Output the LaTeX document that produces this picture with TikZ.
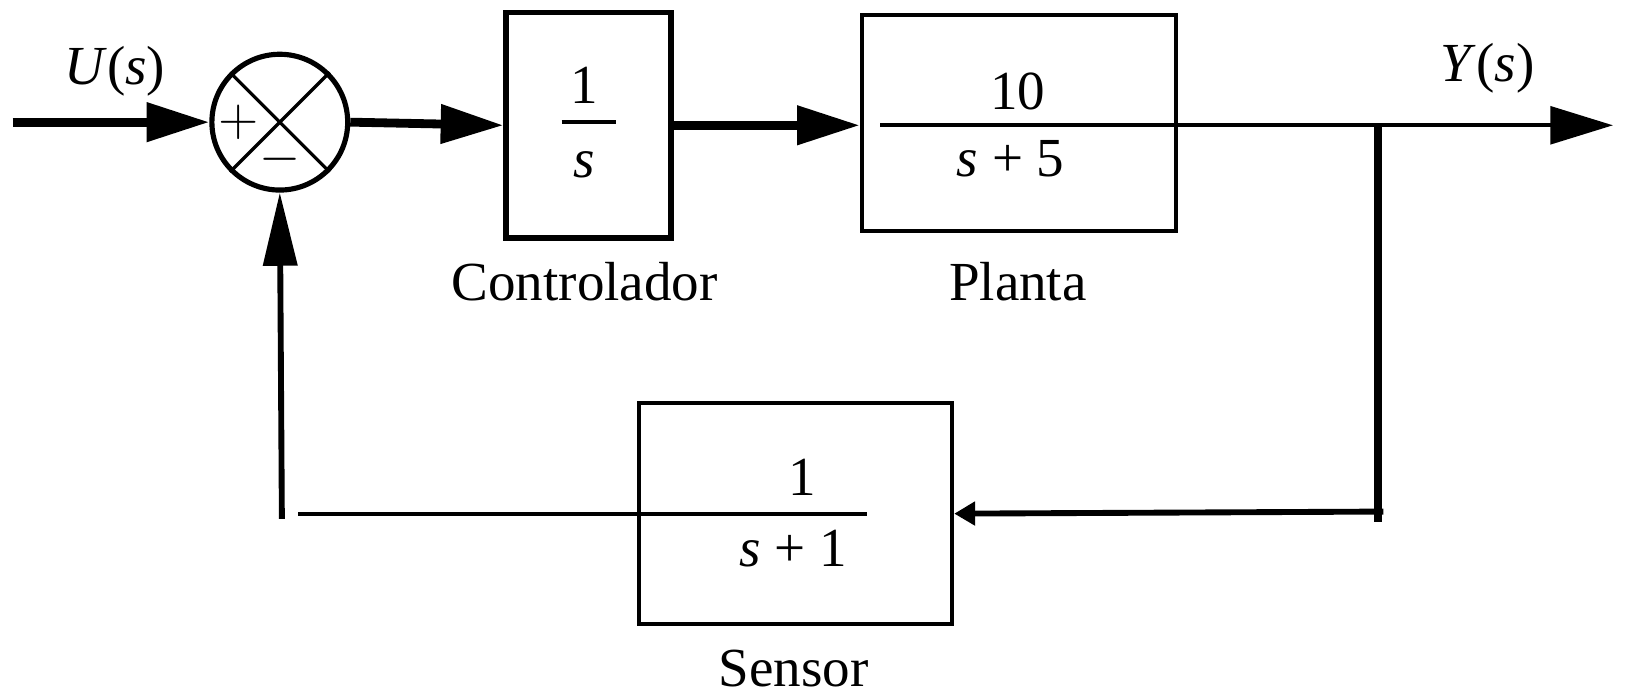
\documentclass[tikz,border=0pt]{standalone}
\usepackage{fontspec}
\setmainfont{Liberation Serif}
\usetikzlibrary{arrows.meta}

\begin{document}
\begin{tikzpicture}[
			x=0.01cm, y=-0.01cm,
			font=\fontsize{15}{18}\selectfont,
			bloque/.style={draw=black, rectangle, inner sep=0pt, line width=1.1pt},
			sumador/.style={draw=black, circle, inner sep=0pt,
				minimum size=1.3cm, line width=1.4pt},
			senal/.style={line width=1.1pt, black},
			senalG/.style={line width=2.4pt, black},
			senalM/.style={line width=1.6pt, black},
			flecha/.style={-{Triangle[length=6mm, width=3.6mm]}},
			flechaV/.style={-{Triangle[length=7mm, width=3.2mm]}},
			flechita/.style={-{Triangle[length=2mm, width=2.2mm]}},
			etiqueta/.style={inner sep=0pt}]
			
			\useasboundingbox (0,0) rectangle (1568,666);
			
			%% --- bloques ---
			\node[sumador] (suma) at (268,117) {};
			\node[bloque, line width=1.6pt, minimum width=1.58cm, minimum height=2.16cm] (controlador) at (564,120) {};
			\node[bloque, minimum width=3.01cm, minimum height=2.07cm] (planta) at (976,118) {};
			\node[bloque, minimum width=3.0cm, minimum height=2.12cm] (sensor) at (762,492) {};
			
			%% --- cruz del sumador y signos ---
			\draw[line width=0.9pt] (suma.north west) -- (suma.south east);
			\draw[line width=0.9pt] (suma.north east) -- (suma.south west);
			\node[etiqueta] (mas) at (229,117) {$+$};
			\node[etiqueta] (menos) at (268,153) {$-$};
			
			%% --- funciones de transferencia ---
			\node[etiqueta] (numC) at (560,82) {1};
			\node[etiqueta] (denC) at (560,158) {\textit{s}};
			\draw[senal] (538,117) -- (590,117);
			\node[etiqueta] (numP) at (975,88) {10};
			\node[etiqueta] (denP) at (968,152) {\textit{s} + 5};
			\node[etiqueta] (numS) at (768,457) {1};
			\node[etiqueta] (denS) at (760,525) {\textit{s} + 1};
			
			%% --- nombres ---
			\node[etiqueta] (tC) at (560,270) {Controlador};
			\node[etiqueta] (tP) at (975,270) {Planta};
			\node[etiqueta] (tS) at (760,640) {Sensor};
			\node[etiqueta] (entrada) at (110,68) {\textit{U}(\textit{s})};
			\node[etiqueta] (salidaY) at (1425,65) {\textit{Y}(\textit{s})};
			
			%% --- puntos de paso ---
			\coordinate (ingreso) at (12,117);
			\coordinate (barraP) at (843,120);
			\coordinate (salida) at (1545,120);
			\coordinate (nodoY) at (1320,120);
			\coordinate (esquina) at (1320,500);
			\coordinate (retorno) at (1325,490);
			\coordinate (barraS) at (830,492);
			\coordinate (esquinaI) at (285,492);
			\coordinate (baseI) at (270,497);
			
			%% --- lazo directo ---
			\draw[senalG, flecha] (ingreso) -- (suma.west);
			\draw[senalG, flecha] (suma.east) -- (controlador.west);
			\draw[senalG, flecha] (controlador.east) -- (controlador.east -| planta.west);
			\draw[senal, flecha] (barraP) -- (salida);
			
			%% --- realimentacion ---
			\draw[senalG] (nodoY) -- (esquina);
			\draw[senalM, flechita] (retorno) -- (sensor.east);
			\draw[senal] (barraS) -- (esquinaI);
			\draw[senalM, flechaV] (baseI) -- (suma.south);
			
		\end{tikzpicture}
\end{document}
